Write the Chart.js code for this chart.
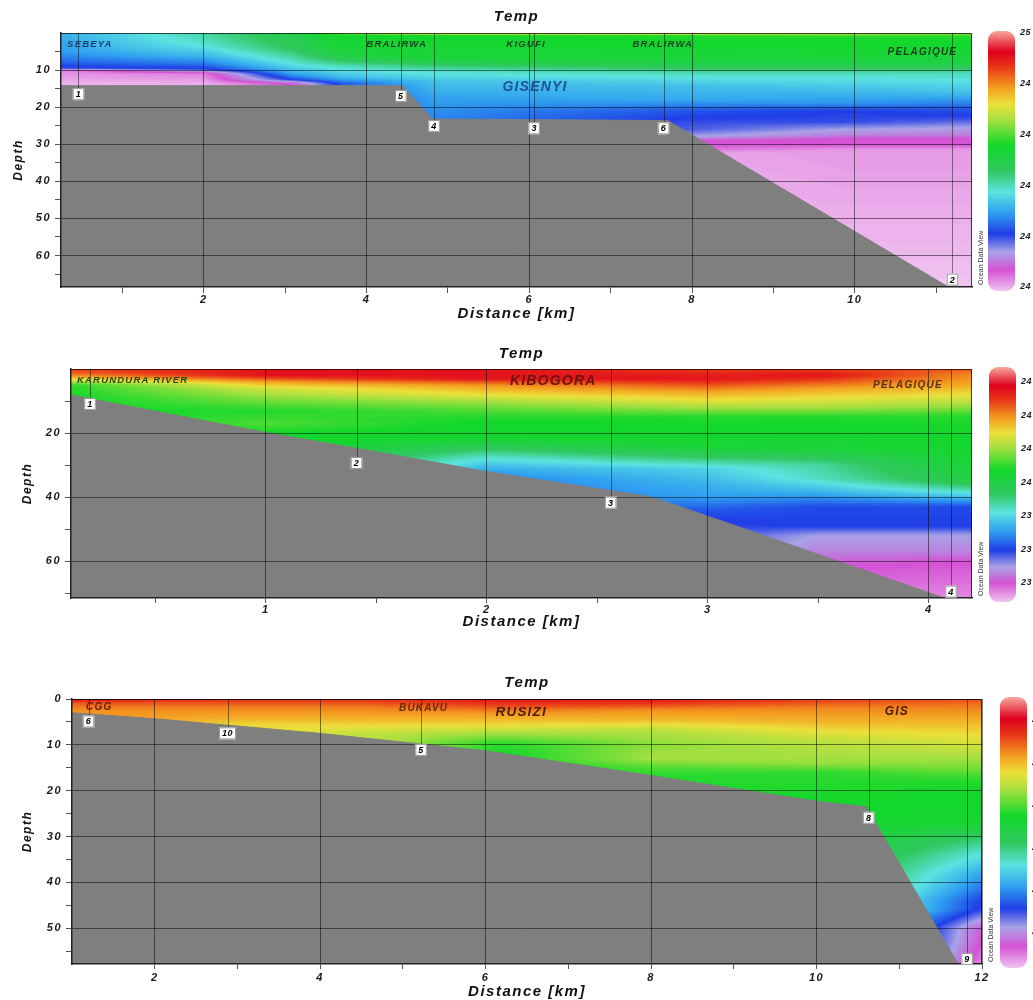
<!DOCTYPE html>
<html>
<head>
<meta charset="utf-8">
<script src="https://cdn.jsdelivr.net/npm/chart.js@4.4.0/dist/chart.umd.min.js"></script>
<style>
body { margin: 0; background: #fff; width: 1033px; height: 1000px; position: relative; overflow: hidden; }
canvas { position: absolute; left: 0; }
</style>
</head>
<body>
<canvas id="gisenyi" width="1033" height="328" style="top:0px"></canvas>
<canvas id="kibogora" width="1033" height="310" style="top:330px"></canvas>
<canvas id="rusizi" width="1033" height="340" style="top:660px"></canvas>
<script>
// colour scale, 0 = coldest, 1 = warmest (ODV style)
const cmapStops = [0, 0.08, 0.15, 0.22, 0.30, 0.38, 0.46, 0.56, 0.66, 0.72, 0.78, 0.86, 0.92, 1];
const cmapColors = ['#f0c4f0', '#d452d4', '#a9a2e6', '#1f3ee6', '#2f9ff0', '#5ae4e0', '#30c860',
                    '#12d82a', '#a8e040', '#ece03a', '#f4a020', '#e83818', '#e0001c', '#f7a89e'];

// --- Gisenyi section ---
const gisDepthTicks = [10, 20, 30, 40, 50, 60];
const gisDepthMinor = [5, 15, 25, 35, 45, 55, 65];
const gisDistTicks = [2, 4, 6, 8, 10];
const gisDistMinor = [1, 3, 5, 7, 9, 11];
const gisFloorX = [0.245, 4.44, 4.81, 7.7, 11.15, 11.44];
const gisFloorD = [14.2, 14.2, 23.2, 23.6, 68.5, 68.5];
const gisStations = ['1', '5', '4', '3', '6', '2'];
const gisStnX = [0.46, 4.42, 4.83, 6.06, 7.65, 11.2];
const gisStnD = [16.5, 17.0, 25.1, 25.7, 25.7, 66.5];
const gisPlaces = ['SEBEYA', 'BRALIRWA', 'KIGUFI', 'BRALIRWA', 'PELAGIQUE', 'GISENYI'];
const gisPlaceX = [0.32, 4.37, 5.96, 7.64, 10.83, 6.07];
const gisPlaceD = [3.0, 3.0, 3.0, 3.0, 5.3, 14.7];
const gisColX = [0.245, 2.0, 3.1, 3.7, 4.8, 7.9, 9.9, 11.44];
const gisCols = [
  [[0, 0.32], [5, 0.30], [7.5, 0.26], [9, 0.22], [9.6, 0.20], [10.2, 0.04], [14, 0.01], [68.5, 0]],
  [[0, 0.42], [3, 0.39], [6, 0.33], [8.5, 0.26], [9.8, 0.21], [11, 0.05], [14, 0.01], [68.5, 0]],
  [[0, 0.50], [4, 0.47], [8, 0.39], [11, 0.31], [12.5, 0.23], [13.5, 0.10], [14.5, 0.06], [68.5, 0]],
  [[0, 0.66], [0.6, 0.56], [6, 0.52], [9, 0.40], [12, 0.33], [13.5, 0.25], [14.5, 0.23], [68.5, 0.2]],
  [[0, 0.76], [0.7, 0.56], [7, 0.53], [10, 0.40], [13, 0.34], [18, 0.30], [23, 0.28], [68.5, 0.2]],
  [[0, 0.77], [0.7, 0.57], [8, 0.52], [11, 0.40], [14, 0.34], [18, 0.31], [21, 0.24], [24, 0.21], [26, 0.20], [28, 0.15], [29, 0.08], [31, 0.07], [32.5, 0.02], [68.5, 0]],
  [[0, 0.68], [1, 0.57], [8, 0.52], [11, 0.40], [15, 0.34], [19, 0.29], [21, 0.22], [24, 0.21], [26, 0.15], [27.5, 0.12], [28.5, 0.08], [30, 0.08], [31.5, 0.03], [68.5, 0]],
  [[0, 0.64], [1, 0.57], [8, 0.52], [11, 0.40], [16, 0.34], [20, 0.25], [23, 0.21], [25.5, 0.15], [27.5, 0.12], [28.5, 0.08], [30, 0.08], [31.5, 0.03], [68.5, 0]]
];
const gisBarLabels = ['25', '24', '24', '24', '24', '24'];

// --- Kibogora section ---
const kibDepthTicks = [20, 40, 60];
const kibDepthMinor = [10, 30, 50, 70];
const kibDistTicks = [1, 2, 3, 4];
const kibDistMinor = [0.5, 1.5, 2.5, 3.5];
const kibFloorX = [0.118, 1.0, 1.53, 2.0, 2.73, 2.78, 3.0, 4.07, 4.195];
const kibFloorD = [8.1, 19.8, 26.2, 32, 39.7, 40.7, 45.9, 71.4, 71.4];
const kibStations = ['1', '2', '3', '4'];
const kibStnX = [0.204, 1.41, 2.56, 4.1];
const kibStnD = [10.9, 29.3, 41.7, 69.4];
const kibPlaces = ['KARUNDURA RIVER', 'KIBOGORA', 'PELAGIQUE'];
const kibPlaceX = [0.145, 2.30, 3.905];
const kibPlaceD = [3.4, 3.8, 5.0];
const kibColX = [0.118, 1.0, 2.0, 3.0, 3.5, 4.195];
const kibCols = [
  [[0, 0.86], [1.5, 0.82], [3, 0.74], [5, 0.58], [9, 0.56], [72, 0.55]],
  [[0, 0.90], [2, 0.90], [4, 0.78], [6, 0.70], [9, 0.64], [13, 0.57], [17, 0.60], [20, 0.56], [72, 0.5]],
  [[0, 0.90], [3, 0.90], [5, 0.79], [8, 0.72], [10, 0.66], [13, 0.60], [16, 0.56], [22, 0.54], [25, 0.46], [28, 0.38], [31, 0.32], [34, 0.28], [72, 0.2]],
  [[0, 0.86], [3, 0.90], [7, 0.78], [9.6, 0.72], [12, 0.66], [15, 0.57], [24, 0.54], [27.5, 0.46], [31, 0.36], [36, 0.32], [40, 0.30], [44, 0.24], [47, 0.22], [72, 0.15]],
  [[0, 0.86], [2, 0.90], [6, 0.78], [9, 0.72], [12, 0.66], [15, 0.57], [25, 0.53], [30, 0.42], [34, 0.40], [39, 0.31], [43, 0.23], [49, 0.22], [52, 0.15], [57, 0.12], [62, 0.08], [68, 0.06], [72, 0.04]],
  [[0, 0.84], [1.5, 0.80], [5, 0.77], [8, 0.72], [11, 0.66], [15, 0.57], [30, 0.54], [35, 0.50], [38, 0.40], [41, 0.30], [43, 0.23], [49, 0.22], [52, 0.15], [57, 0.12], [60, 0.08], [66, 0.06], [72, 0.04]]
];
const kibBarLabels = ['24', '24', '24', '24', '23', '23', '23'];

// --- Rusizi section ---
const rusDepthTicks = [0, 10, 20, 30, 40, 50];
const rusDepthMinor = [5, 15, 25, 35, 45, 55];
const rusDistTicks = [2, 4, 6, 8, 10, 12];
const rusDistMinor = [3, 5, 7, 9, 11];
const rusFloorX = [1.0, 2.0, 4.0, 6.0, 8.0, 10.0, 10.6, 11.71, 12.0];
const rusFloorD = [3.0, 4.3, 7.5, 11.3, 16.7, 22.3, 23.5, 57.8, 57.8];
const rusStations = ['6', '10', '5', '8', '9'];
const rusStnX = [1.2, 2.88, 5.22, 10.63, 11.82];
const rusStnD = [4.9, 7.5, 11.1, 25.9, 56.7];
const rusPlaces = ['CGG', 'BUKAVU', 'RUSIZI', 'GIS'];
const rusPlaceX = [1.17, 5.25, 6.43, 10.97];
const rusPlaceD = [1.8, 2.1, 2.8, 2.8];
const rusColX = [1.0, 3.0, 4.5, 6.2, 8.0, 10.1, 12.0];
const rusCols = [
  [[0, 0.90], [1, 0.83], [2.5, 0.79], [60, 0.77]],
  [[0, 0.87], [2, 0.80], [4, 0.77], [5.5, 0.73], [60, 0.72]],
  [[0, 0.87], [2, 0.80], [4, 0.77], [6, 0.72], [7.5, 0.68], [60, 0.66]],
  [[0, 0.90], [1.5, 0.85], [3, 0.79], [5.5, 0.73], [7.5, 0.66], [9.5, 0.58], [12, 0.56], [60, 0.55]],
  [[0, 0.90], [1, 0.86], [2.5, 0.79], [4.5, 0.76], [5.5, 0.72], [7, 0.67], [10, 0.64], [13, 0.66], [15, 0.60], [17, 0.57], [60, 0.55]],
  [[0, 0.86], [2, 0.80], [5, 0.76], [7, 0.72], [9, 0.68], [14, 0.65], [16, 0.58], [22, 0.56], [60, 0.5]],
  [[0, 0.84], [2, 0.80], [5, 0.76], [8, 0.72], [12, 0.67], [15, 0.63], [18, 0.57], [27, 0.54], [30, 0.46], [34, 0.38], [38, 0.31], [41, 0.27], [44, 0.22], [46, 0.21], [48, 0.15], [50, 0.09], [53, 0.08], [57.8, 0.04]]
];
const rusBarLabels = ['2', '2', '2', '2', '2', '2'];

const fontFamily = "'Liberation Sans', Arial, sans-serif";
Chart.defaults.font.family = fontFamily;

function hexRgb(h) {
  return [parseInt(h.slice(1, 3), 16), parseInt(h.slice(3, 5), 16), parseInt(h.slice(5, 7), 16)];
}
const lut = [];
for (let i = 0; i < 256; i++) {
  const t = i / 255;
  let k = 0;
  while (k < cmapStops.length - 2 && t > cmapStops[k + 1]) k++;
  const f = (t - cmapStops[k]) / (cmapStops[k + 1] - cmapStops[k]);
  const a = hexRgb(cmapColors[k]), b = hexRgb(cmapColors[k + 1]);
  lut.push(a.map((v, j) => Math.round(v + (b[j] - v) * f)));
}

function profileAt(col, d) {
  if (d <= col[0][0]) return col[0][1];
  for (let i = 1; i < col.length; i++) {
    if (d <= col[i][0]) {
      const a = col[i - 1], b = col[i];
      return a[1] + (b[1] - a[1]) * (d - a[0]) / (b[0] - a[0]);
    }
  }
  return col[col.length - 1][1];
}

// wide lettering like the source figure
const spacingPlugin = {
  id: 'spacing',
  beforeDraw(chart) { chart.ctx.letterSpacing = '1.5px'; }
};

// gridded temperature field, painted under the seafloor
function fieldPlugin(p) {
  return {
    id: 'field',
    beforeDatasetsDraw(chart) {
      const { ctx, chartArea: a, scales: { x, y } } = chart;
      const w = Math.round(a.right - a.left), h = Math.round(a.bottom - a.top);
      const off = document.createElement('canvas');
      off.width = w; off.height = h;
      const octx = off.getContext('2d');
      const img = octx.createImageData(w, h);
      const rows = [];
      for (let j = 0; j < h; j++) rows.push(y.getValueForPixel(a.top + j + 0.5));
      const colVals = p.cols.map(c => rows.map(d => profileAt(c, d)));
      for (let i = 0; i < w; i++) {
        const xv = x.getValueForPixel(a.left + i + 0.5);
        let k = 0;
        while (k < p.colX.length - 2 && xv > p.colX[k + 1]) k++;
        let f = (xv - p.colX[k]) / (p.colX[k + 1] - p.colX[k]);
        f = Math.max(0, Math.min(1, f));
        for (let j = 0; j < h; j++) {
          const t = colVals[k][j] * (1 - f) + colVals[k + 1][j] * f;
          const c = lut[Math.max(0, Math.min(255, Math.round(t * 255)))];
          const q = (j * w + i) * 4;
          img.data[q] = c[0]; img.data[q + 1] = c[1]; img.data[q + 2] = c[2]; img.data[q + 3] = 255;
        }
      }
      octx.putImageData(img, 0, 0);
      ctx.drawImage(off, a.left, a.top);
    }
  };
}

// station boxes, place names, frame and colour bar
function annotPlugin(p) {
  return {
    id: 'annot',
    afterDraw(chart) {
      const { ctx, chartArea: a, scales: { x, y } } = chart;
      ctx.save();
      ctx.strokeStyle = 'rgba(0,0,0,0.7)';
      ctx.lineWidth = 1;
      ctx.beginPath();
      ctx.moveTo(a.left, a.top + 0.5); ctx.lineTo(a.right - 0.5, a.top + 0.5); ctx.lineTo(a.right - 0.5, a.bottom);
      ctx.stroke();

      const meta = chart.getDatasetMeta(1);
      ctx.strokeStyle = 'rgba(0,0,0,0.45)';
      meta.data.forEach(pt => {
        ctx.beginPath();
        ctx.moveTo(Math.round(pt.x) + 0.5, a.top);
        ctx.lineTo(Math.round(pt.x) + 0.5, pt.y - 6);
        ctx.stroke();
      });
      ctx.letterSpacing = '0.5px';
      ctx.font = 'bold italic 9px ' + fontFamily;
      ctx.textAlign = 'center';
      ctx.textBaseline = 'middle';
      meta.data.forEach((pt, i) => {
        const tw = ctx.measureText(p.stations[i]).width + 6;
        ctx.fillStyle = '#fff';
        ctx.fillRect(pt.x - tw / 2, pt.y - 6, tw, 12);
        ctx.strokeStyle = '#999';
        ctx.strokeRect(pt.x - tw / 2 + 0.5, pt.y - 5.5, tw - 1, 11);
        ctx.fillStyle = '#000';
        ctx.fillText(p.stations[i], pt.x, pt.y + 0.5);
      });

      ctx.letterSpacing = '1.2px';
      p.places.forEach((name, i) => {
        ctx.font = 'bold italic ' + p.placeSize[i] + 'px ' + fontFamily;
        ctx.fillStyle = p.placeColor[i];
        ctx.textAlign = p.placeAlign[i];
        ctx.fillText(name, x.getPixelForValue(p.placeX[i]), y.getPixelForValue(p.placeD[i]));
      });

      // colour bar
      const bx = a.right + p.barGap, bw = 27, by = a.top - 2, bh = a.bottom - a.top + 6;
      const g = ctx.createLinearGradient(0, by, 0, by + bh);
      cmapStops.forEach((s, i) => g.addColorStop(1 - s, cmapColors[i]));
      ctx.fillStyle = g;
      ctx.beginPath();
      ctx.roundRect(bx, by, bw, bh, 9);
      ctx.fill();
      ctx.letterSpacing = '0.5px';
      ctx.font = 'bold italic 9px ' + fontFamily;
      ctx.fillStyle = '#222';
      ctx.textAlign = 'left';
      const l0 = a.top + p.barLabelTop, l1 = a.bottom - p.barLabelBottom;
      p.barLabels.forEach((s, i) => {
        ctx.fillText(s, bx + bw + 5, l0 + (l1 - l0) * i / (p.barLabels.length - 1));
      });

      // ODV watermark
      ctx.letterSpacing = '0px';
      ctx.translate(a.right + 9, a.bottom - 2);
      ctx.rotate(-Math.PI / 2);
      ctx.font = '7px ' + fontFamily;
      ctx.fillStyle = '#333';
      ctx.fillText('Ocean Data View', 0, 0);
      ctx.restore();
    }
  };
}

function isMajor(list, v) {
  return list.some(m => Math.abs(m - v) < 1e-9);
}

function makePanel(id, p) {
  const axisFont = { size: 11, weight: 'bold', style: 'italic' };
  return new Chart(document.getElementById(id), {
    type: 'scatter',
    data: {
      datasets: [
        {
          xAxisID: 'x', yAxisID: 'y',
          data: p.floorX.map((v, i) => ({ x: v, y: p.floorD[i] })),
          showLine: true,
          fill: { value: p.depthMax },
          backgroundColor: '#7f7f7f',
          borderColor: '#7f7f7f',
          borderWidth: 1,
          pointRadius: 0,
          tension: 0
        },
        {
          xAxisID: 'x', yAxisID: 'y',
          data: p.stnX.map((v, i) => ({ x: v, y: p.stnD[i] })),
          pointRadius: 0
        }
      ]
    },
    options: {
      responsive: false,
      animation: false,
      events: [],
      layout: { padding: { left: 0, right: p.padRight, top: 0, bottom: 0 } },
      plugins: {
        legend: { display: false },
        tooltip: { enabled: false },
        title: { display: false }
      },
      scales: {
        x: {
          type: 'linear', position: 'bottom', min: p.distMin, max: p.distMax,
          afterBuildTicks: s => { s.ticks = p.distTicks.concat(p.distMinor).sort((a, b) => a - b).map(v => ({ value: v })); },
          afterFit: s => { s.height = p.xAxisH; },
          ticks: {
            autoSkip: false, maxRotation: 0, padding: p.xTickPad, color: '#1a1a1a', font: axisFont,
            callback: v => isMajor(p.distTicks, v) ? String(v) : ''
          },
          grid: {
            z: 1,
            color: c => c.tick && isMajor(p.distTicks, c.tick.value) ? 'rgba(0,0,0,0.5)' : 'rgba(0,0,0,0)',
            tickColor: '#555', tickLength: p.xTickLen
          },
          border: { z: 1, color: '#222', width: 1.5 },
          title: {
            display: true, text: 'Distance [km]', color: '#111',
            font: { size: 15, weight: 'bold', style: 'italic', lineHeight: 1 },
            padding: { top: 0, bottom: p.xTitlePad }
          }
        },
        y: {
          type: 'linear', reverse: true, min: 0, max: p.depthMax,
          afterBuildTicks: s => { s.ticks = p.depthTicks.concat(p.depthMinor).sort((a, b) => a - b).map(v => ({ value: v })); },
          afterFit: s => { s.width = p.yAxisW; },
          ticks: {
            autoSkip: false, padding: 4, color: '#1a1a1a', font: axisFont,
            callback: v => isMajor(p.depthTicks, v) ? String(v) : ''
          },
          grid: {
            z: 1,
            color: c => c.tick && isMajor(p.depthTicks, c.tick.value) ? 'rgba(0,0,0,0.5)' : 'rgba(0,0,0,0)',
            tickColor: '#555', tickLength: 6
          },
          border: { z: 1, color: '#222', width: 1.5 },
          title: {
            display: true, text: 'Depth', color: '#111',
            font: { size: 12, weight: 'bold', style: 'italic', lineHeight: 1.2 },
            padding: { top: p.yTitlePad, bottom: 0 }
          }
        },
        top: {
          type: 'linear', axis: 'x', position: 'top', min: 0, max: 1,
          afterFit: s => { s.height = p.plotTop; },
          ticks: { display: false },
          grid: { display: false, drawTicks: false },
          border: { display: false },
          title: {
            display: true, text: 'Temp', color: '#111',
            font: { size: 15, weight: 'bold', style: 'italic', lineHeight: 1.2 },
            padding: { top: p.titleTop, bottom: 0 }
          }
        }
      }
    },
    plugins: [spacingPlugin, fieldPlugin(p), annotPlugin(p)]
  });
}

makePanel('gisenyi', {
  distMin: 0.245, distMax: 11.44, depthMax: 68.5,
  distTicks: gisDistTicks, distMinor: gisDistMinor, depthTicks: gisDepthTicks, depthMinor: gisDepthMinor,
  floorX: gisFloorX, floorD: gisFloorD,
  stations: gisStations, stnX: gisStnX, stnD: gisStnD,
  places: gisPlaces, placeX: gisPlaceX, placeD: gisPlaceD,
  placeSize: [9.5, 9.5, 9.5, 9.5, 10, 14],
  placeColor: ['#1b3d72', '#1c3f22', '#1c3f22', '#1c3f22', '#173d1a', '#1d4f9c'],
  placeAlign: ['left', 'center', 'center', 'center', 'center', 'center'],
  colX: gisColX, cols: gisCols,
  barLabels: gisBarLabels, barLabelTop: 0, barLabelBottom: 0, barGap: 16,
  padRight: 61, yAxisW: 61, xAxisH: 41, plotTop: 33, titleTop: 7.5,
  xTickLen: 6, xTickPad: 0, xTitlePad: 6.5, yTitlePad: 11.5
});

makePanel('kibogora', {
  distMin: 0.118, distMax: 4.195, depthMax: 71.4,
  distTicks: kibDistTicks, distMinor: kibDistMinor, depthTicks: kibDepthTicks, depthMinor: kibDepthMinor,
  floorX: kibFloorX, floorD: kibFloorD,
  stations: kibStations, stnX: kibStnX, stnD: kibStnD,
  places: kibPlaces, placeX: kibPlaceX, placeD: kibPlaceD,
  placeSize: [9.5, 14, 10],
  placeColor: ['#1d4d14', '#6e1410', '#5a3410'],
  placeAlign: ['left', 'center', 'center'],
  colX: kibColX, cols: kibCols,
  barLabels: kibBarLabels, barLabelTop: 13, barLabelBottom: 15, barGap: 17,
  padRight: 61, yAxisW: 71, xAxisH: 42, plotTop: 39, titleTop: 15,
  xTickLen: 5, xTickPad: 0, xTitlePad: 10.5, yTitlePad: 20
});

makePanel('rusizi', {
  distMin: 1.0, distMax: 12.0, depthMax: 57.8,
  distTicks: rusDistTicks, distMinor: rusDistMinor, depthTicks: rusDepthTicks, depthMinor: rusDepthMinor,
  floorX: rusFloorX, floorD: rusFloorD,
  stations: rusStations, stnX: rusStnX, stnD: rusStnD,
  places: rusPlaces, placeX: rusPlaceX, placeD: rusPlaceD,
  placeSize: [10, 10, 13.5, 12],
  placeColor: ['#6e1a0c', '#6a2a0c', '#4a1a0a', '#4a1a0a'],
  placeAlign: ['left', 'center', 'center', 'center'],
  colX: rusColX, cols: rusCols,
  barLabels: rusBarLabels, barLabelTop: 21, barLabelBottom: 32, barGap: 18,
  padRight: 51, yAxisW: 72, xAxisH: 36, plotTop: 39, titleTop: 14,
  xTickLen: 5, xTickPad: 2, xTitlePad: 0.5, yTitlePad: 20.5
});
</script>
</body>
</html>
